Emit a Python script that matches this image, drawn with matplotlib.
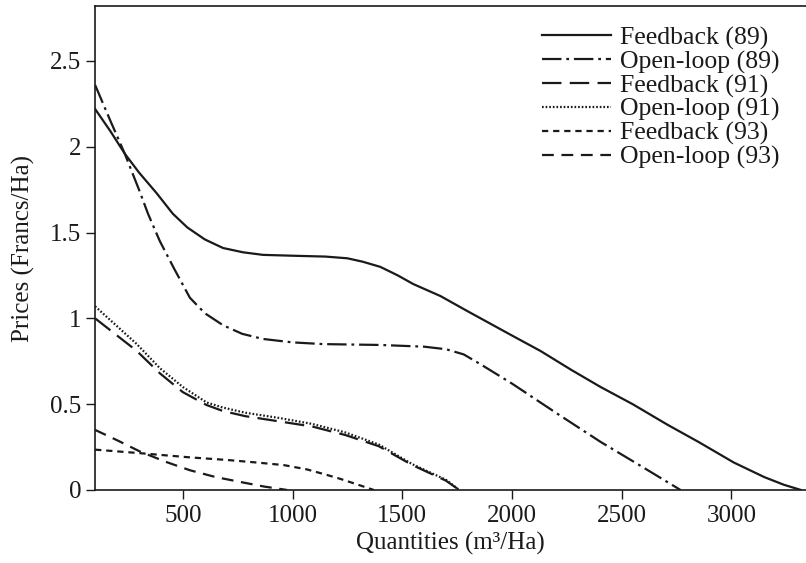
import numpy as np
import matplotlib
matplotlib.use("Agg")
import matplotlib.pyplot as plt

plt.rcParams['font.family'] = ['Liberation Serif', 'DejaVu Serif']
plt.rcParams['lines.scale_dashes'] = False

# price curves: quantity (m3/Ha) -> price (Francs/Ha)
fb89_q = [100, 170, 235, 300, 380, 454, 520, 600, 683, 774, 865, 1000, 1150, 1250, 1320,
          1400, 1480, 1550, 1674, 1800, 2000, 2130, 2270, 2404, 2550, 2709, 2850, 3011,
          3150, 3240, 3317]
fb89_p = [2.22, 2.09, 1.96, 1.85, 1.73, 1.61, 1.53, 1.46, 1.41, 1.385, 1.37, 1.365, 1.36,
          1.35, 1.33, 1.30, 1.25, 1.20, 1.13, 1.04, 0.90, 0.81, 0.70, 0.60, 0.50, 0.38,
          0.28, 0.16, 0.075, 0.03, 0.0]

ol89_q = [100, 170, 235, 300, 341, 395, 460, 532, 600, 683, 770, 865, 1000, 1140, 1400,
          1600, 1700, 1780, 1860, 2000, 2200, 2404, 2600, 2768]
ol89_p = [2.36, 2.15, 1.96, 1.75, 1.61, 1.45, 1.29, 1.12, 1.03, 0.96, 0.91, 0.88, 0.86,
          0.85, 0.845, 0.835, 0.82, 0.79, 0.73, 0.62, 0.45, 0.28, 0.13, 0.0]

fb91_q = [100, 290, 395, 500, 608, 683, 785, 937, 1089, 1241, 1393, 1546, 1698, 1760]
fb91_p = [1.00, 0.81, 0.68, 0.57, 0.495, 0.46, 0.43, 0.40, 0.37, 0.32, 0.255, 0.145, 0.055, 0.0]

ol91_q = [100, 290, 395, 500, 608, 683, 785, 937, 1089, 1241, 1393, 1546, 1698, 1760]
ol91_p = [1.07, 0.85, 0.71, 0.60, 0.51, 0.48, 0.45, 0.42, 0.385, 0.335, 0.265, 0.15, 0.06, 0.0]

fb93_q = [100, 300, 532, 700, 837, 960, 1065, 1150, 1217, 1300, 1370]
fb93_p = [0.235, 0.215, 0.19, 0.175, 0.16, 0.145, 0.12, 0.09, 0.065, 0.03, 0.0]

ol93_q = [100, 200, 303, 420, 532, 650, 761, 870, 975]
ol93_p = [0.35, 0.29, 0.225, 0.165, 0.115, 0.075, 0.047, 0.02, 0.0]

labels = ["Feedback (89)", "Open-loop (89)", "Feedback (91)",
          "Open-loop (91)", "Feedback (93)", "Open-loop (93)"]
x_ticks = [500, 1000, 1500, 2000, 2500, 3000]
y_ticks = [0, 0.5, 1, 1.5, 2, 2.5]
y_tick_labels = ["0", "0.5", "1", "1.5", "2", "2.5"]

ink = '#1a1a1a'
fig = plt.figure(figsize=(8.06, 5.63), dpi=100)
ax = fig.add_axes([0.118, 0.1297, 0.882, 0.8596])

lw = 1.6
ax.plot(fb89_q, fb89_p, color=ink, lw=lw, ls='-', label=labels[0])
ax.plot(ol89_q, ol89_p, color=ink, lw=lw, ls=(0, (14, 3.5, 2, 3.5)), label=labels[1])
ax.plot(fb91_q, fb91_p, color=ink, lw=lw, ls=(0, (14, 6)), label=labels[2])
ax.plot(ol91_q, ol91_p, color=ink, lw=lw, ls=(0, (1.2, 1.4)), label=labels[3])
ax.plot(fb93_q, fb93_p, color=ink, lw=lw, ls=(0, (4.5, 3.5)), label=labels[4])
ax.plot(ol93_q, ol93_p, color=ink, lw=lw, ls=(0, (8.5, 5.5)), label=labels[5])

ax.set_xlim(100, 3340)
ax.set_ylim(0, 2.82)
ax.set_xticks(x_ticks)
ax.set_yticks(y_ticks)
ax.set_yticklabels(y_tick_labels)
ax.tick_params(direction='out', length=6.5, width=1, labelsize=18, colors=ink)
ax.tick_params(axis='x', pad=4)
ax.spines['right'].set_visible(False)
for s in ('left', 'bottom', 'top'):
    ax.spines[s].set_linewidth(1.2)
    ax.spines[s].set_color(ink)

ax.set_xlabel("Quantities (m³/Ha)", fontsize=18, color=ink, labelpad=4)
ax.set_ylabel("Prices (Francs/Ha)", fontsize=18, color=ink, labelpad=11)

ax.legend(loc='upper right', bbox_to_anchor=(0.985, 0.99), frameon=False, fontsize=18.5,
          handlelength=2.7, handletextpad=0.35, labelspacing=0.02, borderaxespad=0.2,
          labelcolor=ink)

fig.savefig("out.png", dpi=100)
